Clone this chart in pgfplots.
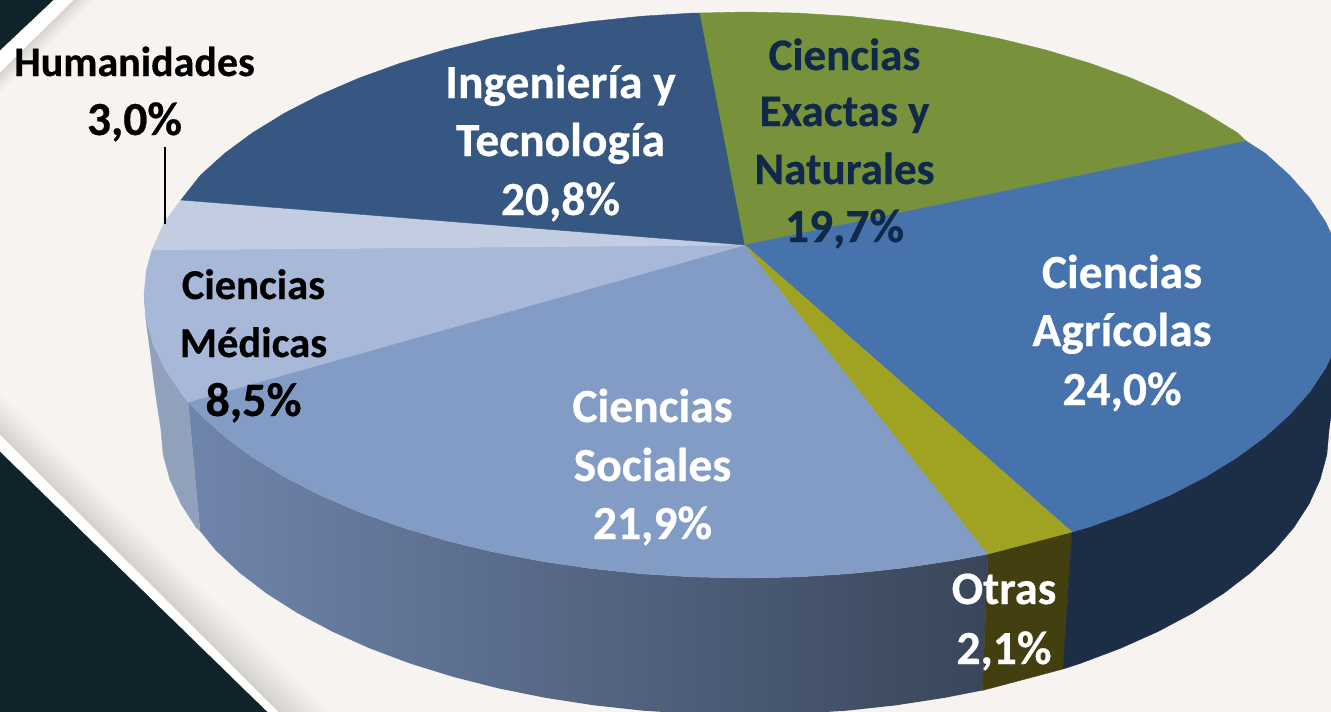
\documentclass[border=0pt]{standalone}
\usepackage{fontspec}
\setmainfont{Carlito}[BoldFeatures={FakeBold=0.5}]
\usepackage{pgfplots}
\pgfplotsset{compat=1.18}
\definecolor{bg}{HTML}{F7F3F0}
\definecolor{dark}{HTML}{10222A}
\definecolor{ing}{HTML}{355782}
\definecolor{exa}{HTML}{77923B}
\definecolor{agr}{HTML}{4773AC}
\definecolor{otr}{HTML}{9FA321}
\definecolor{soc}{HTML}{829CC6}
\definecolor{med}{HTML}{A8B8D8}
\definecolor{hum}{HTML}{C3CDE1}
\definecolor{agrS}{HTML}{1C2E46}
\definecolor{otrS}{HTML}{433F10}
\definecolor{medS}{HTML}{92A1BB}
\definecolor{socA}{HTML}{7085AC}
\definecolor{socB}{HTML}{5A6A88}
\definecolor{socC}{HTML}{39465A}
\definecolor{navy}{HTML}{10284A}
\definecolor{shD}{HTML}{D6D3CE}
\newcommand{\lbl}[5]{\node[anchor=base,inner sep=0pt,text=#4,font=\fontsize{#3}{#3}\selectfont\bfseries] at (axis cs:#1,#2) {#5};}
\newcommand{\poly}[2]{\addplot[draw=#1,line width=0.4pt,fill=#1,mark=none] coordinates {#2} --cycle;}
\begin{document}
\begin{tikzpicture}
\begin{axis}[
  scale only axis, width=1331pt, height=712pt,
  xmin=0, xmax=1331, ymin=0, ymax=712, y dir=reverse,
  axis line style={draw=none}, tick style={draw=none},
  xtick=\empty, ytick=\empty, clip=true,
  axis background/.style={fill=bg}]
% background decoration, bottom left
\poly{shD!10!bg}{(0,395) (330,712) (278,712) (0,435)}
\poly{shD!20!bg}{(0,400) (323,712) (278,712) (0,435)}
\poly{shD!32!bg}{(0,405) (317,712) (278,712) (0,435)}
\poly{shD!45!bg}{(0,410) (310,712) (278,712) (0,435)}
\poly{shD!58!bg}{(0,415) (304,712) (278,712) (0,435)}
\poly{shD!72!bg}{(0,420) (298,712) (278,712) (0,435)}
\poly{shD!86!bg}{(0,425) (291,712) (278,712) (0,435)}
\poly{shD}{(0,430) (285,712) (278,712) (0,435)}
\poly{white}{(0,435) (278,712) (267,712) (0,452)}
\poly{dark}{(0,452) (267,712) (0,712)}
% background decoration, top left
\poly{shD!15!bg}{(0,92) (93,0) (73,0) (0,72)}
\poly{shD!30!bg}{(0,88) (89,0) (73,0) (0,72)}
\poly{shD!50!bg}{(0,84) (85,0) (73,0) (0,72)}
\poly{shD!70!bg}{(0,80) (81,0) (73,0) (0,72)}
\poly{shD!90!bg}{(0,76) (77,0) (73,0) (0,72)}
\poly{white}{(53,0) (73,0) (0,72) (0,50)}
\poly{dark}{(0,0) (53,0) (0,50)}
% sides
\addplot[draw=none,mark=none,left color=socA,middle color=socB,right color=socC] coordinates {(188,402) (200.3,414.6) (224.5,436.5) (252.7,457.3) (284.6,476.9) (320,495.1) (358.7,511.8) (400.3,526.8) (444.5,540.1) (491,551.5) (539.5,560.9) (589.5,568.3) (640.7,573.7) (692.6,576.9) (745,578) (797.4,576.9) (849.3,573.7) (900.5,568.3) (950.5,560.9) (988,554) (982.5,690.4) (944.7,697.8) (896.1,705.3) (846.4,710.7) (795.9,713.9) (745,715) (694.1,713.9) (643.6,710.7) (593.9,705.3) (545.3,697.8) (498.2,688.3) (453,676.8) (410,663.5) (369.6,648.3) (332.1,631.5) (297.6,613.2) (266.6,593.5) (239.2,572.5) (215.7,550.4) (200,531)} --cycle;
\poly{medS}{(144,295) (146,320) (150,350) (155,390) (161,430) (163.2,454.8) (169.9,479.5) (180.9,503.8) (196.2,527.5) (200,531) (188,402) (180.2,391.8) (164.5,368.2) (153.1,344.1) (146.3,319.7)}
\poly{otrS}{(988,554) (1072,532) (1063,669) (982.5,690.4)}
\poly{agrS}{(1072,532) (1089.7,526.8) (1131.3,511.8) (1170,495.1) (1205.4,476.9) (1237.3,457.3) (1265.5,436.5) (1289.7,414.6) (1309.8,391.8) (1325.5,368.2) (1336.9,344.1) (1346,295) (1336,380) (1329,430) (1326.8,454.8) (1320.1,479.5) (1309.1,503.8) (1293.8,527.5) (1274.3,550.4) (1250.8,572.5) (1223.4,593.5) (1192.4,613.2) (1158,631.5) (1120.4,648.3) (1080,663.5) (1063,669)}
% top faces
\poly{soc}{(745,245) (188,402) (200.3,414.6) (224.5,436.5) (252.7,457.3) (284.6,476.9) (320,495.1) (358.7,511.8) (400.3,526.8) (444.5,540.1) (491,551.5) (539.5,560.9) (589.5,568.3) (640.7,573.7) (692.6,576.9) (745,578) (797.4,576.9) (849.3,573.7) (900.5,568.3) (950.5,560.9) (988,554)}
\poly{med}{(745,245) (152,250) (146.3,270.3) (144,295) (146.3,319.7) (153.1,344.1) (164.5,368.2) (180.2,391.8) (188,402)}
\poly{hum}{(745,245) (181,200) (164.5,221.8) (152,250)}
\poly{ing}{(745,245) (700,13) (692.6,13.1) (640.7,16.3) (589.5,21.7) (539.5,29.1) (491,38.5) (444.5,49.9) (400.3,63.2) (358.7,78.2) (320,94.9) (284.6,113.1) (252.7,132.7) (224.5,153.5) (200.3,175.4) (181,200)}
\poly{exa}{(745,245) (1246,141) (1237.3,132.7) (1205.4,113.1) (1170,94.9) (1131.3,78.2) (1089.7,63.2) (1045.5,49.9) (999,38.5) (950.5,29.1) (900.5,21.7) (849.3,16.3) (797.4,13.1) (745,12) (700,13)}
\poly{agr}{(745,245) (1246,141) (1265.5,153.5) (1289.7,175.4) (1309.8,198.2) (1325.5,221.8) (1336.9,245.9) (1343.7,270.3) (1346,295) (1343.7,319.7) (1336.9,344.1) (1325.5,368.2) (1309.8,391.8) (1289.7,414.6) (1265.5,436.5) (1237.3,457.3) (1205.4,476.9) (1170,495.1) (1131.3,511.8) (1089.7,526.8) (1072,532)}
\poly{otr}{(745,245) (1072,532) (988,554)}
% leader
\addplot[black,line width=2pt,mark=none] coordinates {(164.5,147) (164.5,224)};
% labels
\lbl{134.5}{76}{42}{black}{Humanidades}
\lbl{134.5}{135}{47.5}{black}{3,0\%}
\lbl{560.5}{98}{47.5}{white}{Ingeniería y}
\lbl{560.5}{156}{47.5}{white}{Tecnología}
\lbl{560.5}{215}{47.5}{white}{20,8\%}
\lbl{844.5}{70}{45}{navy}{Ciencias}
\lbl{844.5}{126}{45}{navy}{Exactas y}
\lbl{844.5}{184}{45}{navy}{Naturales}
\lbl{844.5}{242}{47.5}{navy}{19,7\%}
\lbl{1122}{288}{47.5}{white}{Ciencias}
\lbl{1122}{346}{47.5}{white}{Agrícolas}
\lbl{1122}{405}{47.5}{white}{24,0\%}
\lbl{652.5}{422}{47.5}{white}{Ciencias}
\lbl{652.5}{481}{47.5}{white}{Sociales}
\lbl{652.5}{539}{47.5}{white}{21,9\%}
\lbl{253.5}{299}{42.5}{black}{Ciencias}
\lbl{253.5}{357}{42.5}{black}{Médicas}
\lbl{253.5}{416}{48}{black}{8,5\%}
\lbl{1004}{604}{46.5}{white}{Otras}
\lbl{1004}{664}{47.5}{white}{2,1\%}
\end{axis}
\end{tikzpicture}
\end{document}
